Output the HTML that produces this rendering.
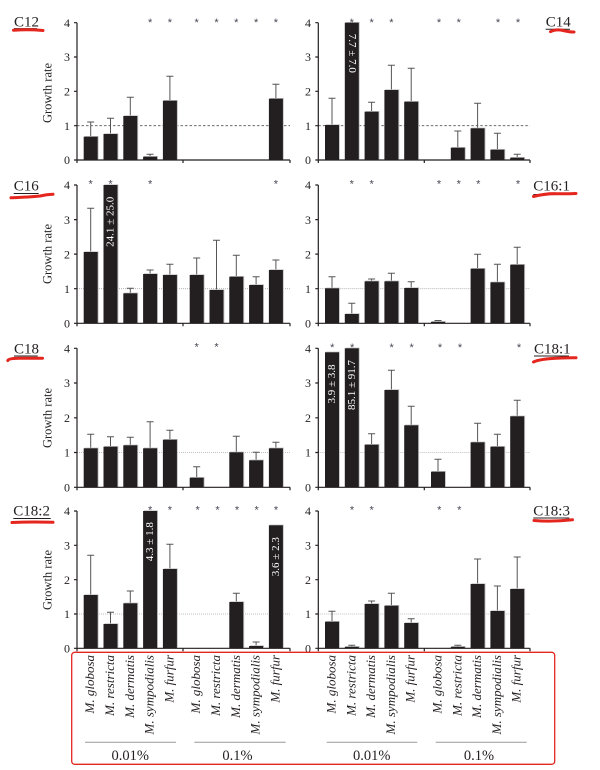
<!DOCTYPE html>
<html><head><meta charset="utf-8"><style>
html,body{margin:0;padding:0;background:#fff;}
svg{display:block;font-family:"Liberation Serif",serif;}
.ax{stroke:#231f20;stroke-width:1.2;fill:none;}
.eb{stroke:#555;stroke-width:1;fill:none;}
.tl{font-size:12px;fill:#231f20;text-anchor:end;}
.st{font-family:"Liberation Sans",sans-serif;font-size:11px;fill:#4a4552;text-anchor:middle;}
.bt{font-size:11px;fill:#fff;text-anchor:middle;dominant-baseline:central;}
.gr{font-size:12.5px;fill:#231f20;text-anchor:middle;}
.pl{font-size:15px;fill:#231f20;}
.sp{font-size:13px;font-style:italic;fill:#231f20;text-anchor:end;}
.gp{font-size:14.5px;fill:#231f20;text-anchor:middle;}
.red{stroke:#e5261f;stroke-width:3;fill:none;stroke-linecap:round;}
.ul{stroke:#231f20;stroke-width:1;}
</style></head><body>
<svg width="600" height="770" viewBox="0 0 600 770" xmlns="http://www.w3.org/2000/svg">
<defs>
<g id="bars">
<rect x="83.7" y="136.7" width="14" height="23.3"/>
<rect x="103.5" y="134" width="14" height="26"/>
<rect x="123.3" y="116" width="14" height="44"/>
<rect x="143.1" y="156.7" width="14" height="3.3"/>
<rect x="162.9" y="100.7" width="14" height="59.3"/>
<rect x="268.9" y="98.7" width="14" height="61.3"/>
<rect x="325" y="125" width="14" height="35"/>
<rect x="344.8" y="22.7" width="14" height="137.3"/>
<rect x="364.6" y="111.7" width="14" height="48.3"/>
<rect x="384.4" y="90" width="14" height="70"/>
<rect x="404.2" y="101.7" width="14" height="58.3"/>
<rect x="450.8" y="147.7" width="14" height="12.3"/>
<rect x="470.6" y="128.3" width="14" height="31.7"/>
<rect x="490.4" y="149.7" width="14" height="10.3"/>
<rect x="510.2" y="157.7" width="14" height="2.3"/>
<rect x="83.7" y="252" width="14" height="71.3"/>
<rect x="103.5" y="185" width="14" height="138.3"/>
<rect x="123.3" y="293.3" width="14" height="30"/>
<rect x="143.1" y="274" width="14" height="49.3"/>
<rect x="162.9" y="275" width="14" height="48.3"/>
<rect x="189.7" y="275" width="14" height="48.3"/>
<rect x="209.5" y="290" width="14" height="33.3"/>
<rect x="229.3" y="276.7" width="14" height="46.6"/>
<rect x="249.1" y="285" width="14" height="38.3"/>
<rect x="268.9" y="270" width="14" height="53.3"/>
<rect x="325" y="288.3" width="14" height="35"/>
<rect x="344.8" y="314" width="14" height="9.3"/>
<rect x="364.6" y="281.3" width="14" height="42"/>
<rect x="384.4" y="281.3" width="14" height="42"/>
<rect x="404.2" y="288" width="14" height="35.3"/>
<rect x="431" y="321.8" width="14" height="1.5"/>
<rect x="470.6" y="268.7" width="14" height="54.6"/>
<rect x="490.4" y="282.3" width="14" height="41"/>
<rect x="510.2" y="264.7" width="14" height="58.6"/>
<rect x="83.7" y="448.3" width="14" height="39"/>
<rect x="103.5" y="446.7" width="14" height="40.6"/>
<rect x="123.3" y="445.3" width="14" height="42"/>
<rect x="143.1" y="448.3" width="14" height="39"/>
<rect x="162.9" y="439.7" width="14" height="47.6"/>
<rect x="189.7" y="477.7" width="14" height="9.6"/>
<rect x="229.3" y="452.3" width="14" height="35"/>
<rect x="249.1" y="460.3" width="14" height="27"/>
<rect x="268.9" y="448.3" width="14" height="39"/>
<rect x="325" y="352.3" width="14" height="135"/>
<rect x="344.8" y="348.3" width="14" height="139"/>
<rect x="364.6" y="444.7" width="14" height="42.6"/>
<rect x="384.4" y="390" width="14" height="97.3"/>
<rect x="404.2" y="425.3" width="14" height="62"/>
<rect x="431" y="471.7" width="14" height="15.6"/>
<rect x="470.6" y="442.3" width="14" height="45"/>
<rect x="490.4" y="446.7" width="14" height="40.6"/>
<rect x="510.2" y="416.3" width="14" height="71"/>
<rect x="83.7" y="595" width="14" height="53.3"/>
<rect x="103.5" y="624" width="14" height="24.3"/>
<rect x="123.3" y="603.3" width="14" height="45"/>
<rect x="143.1" y="511" width="14" height="137.3"/>
<rect x="162.9" y="569" width="14" height="79.3"/>
<rect x="229.3" y="602" width="14" height="46.3"/>
<rect x="249.1" y="646" width="14" height="2.3"/>
<rect x="268.9" y="525.3" width="14" height="123"/>
<rect x="325" y="621.7" width="14" height="26.6"/>
<rect x="344.8" y="646.8" width="14" height="1.5"/>
<rect x="364.6" y="604" width="14" height="44.3"/>
<rect x="384.4" y="605.7" width="14" height="42.6"/>
<rect x="404.2" y="623" width="14" height="25.3"/>
<rect x="450.8" y="646.8" width="14" height="1.5"/>
<rect x="470.6" y="584" width="14" height="64.3"/>
<rect x="490.4" y="611" width="14" height="37.3"/>
<rect x="510.2" y="589" width="14" height="59.3"/>
</g>
</defs>

<g fill="none">
<path d="M77 125.7H290M318.3 125.7H530" stroke="#555" stroke-width="0.8" stroke-dasharray="2.5,2"/>
<path d="M77 288.7H290M318.3 288.7H530M77 452.5H290M318.3 452.5H530M77 614H290M318.3 614H530" stroke="#aaa" stroke-width="0.8" stroke-dasharray="1,1"/>
</g>

<path class="eb" d="
M90.7 136.7V122M87.2 122H94.2
M110.5 134V118.3M107 118.3H114
M130.3 116V97.3M126.8 97.3H133.8
M150.1 156.7V154.3M146.6 154.3H153.6
M169.9 100.7V76.3M166.4 76.3H173.4
M275.9 98.7V84.3M272.4 84.3H279.4
M332 125V98.3M328.5 98.3H335.5
M371.6 111.7V102.3M368.1 102.3H375.1
M391.4 90V65.3M387.9 65.3H394.9
M411.2 101.7V68.3M407.7 68.3H414.7
M457.8 147.7V131M454.3 131H461.3
M477.6 128.3V103.3M474.1 103.3H481.1
M497.4 149.7V133.3M493.9 133.3H500.9
M517.2 157.7V154.3M513.7 154.3H520.7
M90.7 252V208.3M87.2 208.3H94.2
M130.3 293.3V288.3M126.8 288.3H133.8
M150.1 274V270M146.6 270H153.6
M169.9 275V264.3M166.4 264.3H173.4
M196.7 275V258M193.2 258H200.2
M216.5 290V240.3M213 240.3H220
M236.3 276.7V255.3M232.8 255.3H239.8
M256.1 285V276.7M252.6 276.7H259.6
M275.9 270V260M272.4 260H279.4
M332 288.3V276.7M328.5 276.7H335.5
M351.8 314V303.3M348.3 303.3H355.3
M371.6 281.3V279M368.1 279H375.1
M391.4 281.3V273.3M387.9 273.3H394.9
M411.2 288V281.7M407.7 281.7H414.7
M438 322V320.5M434.5 320.5H441.5
M477.6 268.7V254.3M474.1 254.3H481.1
M497.4 282.3V264.3M493.9 264.3H500.9
M517.2 264.7V247.3M513.7 247.3H520.7
M90.7 448.3V434.3M87.2 434.3H94.2
M110.5 446.7V436.7M107 436.7H114
M130.3 445.3V437.3M126.8 437.3H133.8
M150.1 448.3V421.7M146.6 421.7H153.6
M169.9 439.7V430.3M166.4 430.3H173.4
M196.7 477.7V466.7M193.2 466.7H200.2
M236.3 452.3V436.3M232.8 436.3H239.8
M256.1 460.3V452.3M252.6 452.3H259.6
M275.9 448.3V442.3M272.4 442.3H279.4
M371.6 444.7V433.7M368.1 433.7H375.1
M391.4 390V370.3M387.9 370.3H394.9
M411.2 425.3V406.3M407.7 406.3H414.7
M438 471.7V459.3M434.5 459.3H441.5
M477.6 442.3V423.3M474.1 423.3H481.1
M497.4 446.7V434.3M493.9 434.3H500.9
M517.2 416.3V400.3M513.7 400.3H520.7
M90.7 595V555.3M87.2 555.3H94.2
M110.5 624V612.3M107 612.3H114
M130.3 603.3V591M126.8 591H133.8
M169.9 569V544.3M166.4 544.3H173.4
M236.3 602V593.3M232.8 593.3H239.8
M256.1 646V642M252.6 642H259.6
M332 621.7V611.3M328.5 611.3H335.5
M351.8 647V645.3M348.3 645.3H355.3
M371.6 604V601M368.1 601H375.1
M391.4 605.7V593.3M387.9 593.3H394.9
M411.2 623V618.7M407.7 618.7H414.7
M457.8 647V645.3M454.3 645.3H461.3
M477.6 584V559M474.1 559H481.1
M497.4 611V586M493.9 586H500.9
M517.2 589V557M513.7 557H520.7"/>

<use href="#bars" x="0.9" y="-0.7" fill="#c4c4c4"/>
<use href="#bars" fill="#231f20"/>

<path class="ax" d="
M77 22.7V160H290M74 22.7H77M74 57H77M74 91.3H77M74 125.7H77M74 160H77M77 160v3M183 160v3M290 160v3
M318.3 22.7V160H530M315.3 22.7H318.3M315.3 57H318.3M315.3 91.3H318.3M315.3 125.7H318.3M315.3 160H318.3M318.3 160v3M424.3 160v3M530 160v3
M77 185V323.3H290M74 185H77M74 219.6H77M74 254.1H77M74 288.7H77M74 323.3H77M77 323.3v3M183 323.3v3M290 323.3v3
M318.3 185V323.3H530M315.3 185H318.3M315.3 219.6H318.3M315.3 254.1H318.3M315.3 288.7H318.3M315.3 323.3H318.3M318.3 323.3v3M424.3 323.3v3M530 323.3v3
M77 348.3V487.3H290M74 348.3H77M74 383H77M74 417.8H77M74 452.5H77M74 487.3H77M77 487.3v3M183 487.3v3M290 487.3v3
M318.3 348.3V487.3H530M315.3 348.3H318.3M315.3 383H318.3M315.3 417.8H318.3M315.3 452.5H318.3M315.3 487.3H318.3M318.3 487.3v3M424.3 487.3v3M530 487.3v3
M77 511V648.3H290M74 511H77M74 545.3H77M74 579.7H77M74 614H77M74 648.3H77M77 648.3v3M183 648.3v3M290 648.3v3
M318.3 511V648.3H530M315.3 511H318.3M315.3 545.3H318.3M315.3 579.7H318.3M315.3 614H318.3M315.3 648.3H318.3M318.3 648.3v3M424.3 648.3v3M530 648.3v3"/>

<g class="tl">
<text x="70" y="26.9">4</text><text x="70" y="61.2">3</text><text x="70" y="95.5">2</text><text x="70" y="129.9">1</text><text x="70" y="164.2">0</text>
<text x="311" y="26.9">4</text><text x="311" y="61.2">3</text><text x="311" y="95.5">2</text><text x="311" y="129.9">1</text><text x="311" y="164.2">0</text>
<text x="70" y="189.2">4</text><text x="70" y="223.8">3</text><text x="70" y="258.3">2</text><text x="70" y="292.9">1</text><text x="70" y="327.5">0</text>
<text x="311" y="189.2">4</text><text x="311" y="223.8">3</text><text x="311" y="258.3">2</text><text x="311" y="292.9">1</text><text x="311" y="327.5">0</text>
<text x="70" y="352.5">4</text><text x="70" y="387.2">3</text><text x="70" y="422">2</text><text x="70" y="456.7">1</text><text x="70" y="491.5">0</text>
<text x="311" y="352.5">4</text><text x="311" y="387.2">3</text><text x="311" y="422">2</text><text x="311" y="456.7">1</text><text x="311" y="491.5">0</text>
<text x="70" y="515.2">4</text><text x="70" y="549.5">3</text><text x="70" y="583.9">2</text><text x="70" y="618.2">1</text><text x="70" y="652.5">0</text>
<text x="311" y="515.2">4</text><text x="311" y="549.5">3</text><text x="311" y="583.9">2</text><text x="311" y="618.2">1</text><text x="311" y="652.5">0</text>
</g>

<g class="gr">
<text transform="translate(51.5,93) rotate(-90)">Growth rate</text>
<text transform="translate(51.5,254) rotate(-90)">Growth rate</text>
<text transform="translate(51.5,418) rotate(-90)">Growth rate</text>
<text transform="translate(51.5,580) rotate(-90)">Growth rate</text>
</g>

<g class="st">
<text x="150.1" y="26">*</text><text x="169.9" y="26">*</text><text x="196.7" y="26">*</text><text x="216.5" y="26">*</text><text x="236.3" y="26">*</text><text x="256.1" y="26">*</text><text x="275.9" y="26">*</text>
<text x="351.8" y="26">*</text><text x="371.6" y="26">*</text><text x="391.4" y="26">*</text><text x="439" y="26">*</text><text x="458.8" y="26">*</text><text x="498" y="26">*</text><text x="518" y="26">*</text>
<text x="90.7" y="187.7">*</text><text x="110.5" y="187.7">*</text><text x="150.1" y="187.7">*</text><text x="275.9" y="187.7">*</text>
<text x="351.8" y="187.7">*</text><text x="371.6" y="187.7">*</text><text x="439" y="187.7">*</text><text x="458.8" y="187.7">*</text><text x="478.3" y="187.7">*</text><text x="518" y="187.7">*</text>
<text x="196.7" y="350.5">*</text><text x="216.5" y="350.5">*</text>
<text x="332.3" y="351">*</text><text x="352.2" y="351">*</text><text x="391.7" y="351">*</text><text x="411.7" y="351">*</text><text x="440" y="351">*</text><text x="460" y="351">*</text><text x="519" y="351">*</text>
<text x="150.1" y="513.7">*</text><text x="169.9" y="513.7">*</text><text x="197.7" y="513.7">*</text><text x="217.5" y="513.7">*</text><text x="237" y="513.7">*</text><text x="256.6" y="513.7">*</text><text x="276" y="513.7">*</text>
<text x="352" y="513.7">*</text><text x="371.7" y="513.7">*</text><text x="439.3" y="513.7">*</text><text x="459.3" y="513.7">*</text>
</g>

<g class="bt">
<text transform="translate(351.8,53.3) rotate(90)">7.7 ± 7.0</text>
<text transform="translate(110.5,221.8) rotate(-90)">24.1 ± 25.0</text>
<text transform="translate(332,384) rotate(-90)">3.9 ± 3.8</text>
<text transform="translate(351.8,385) rotate(-90)">85.1 ± 91.7</text>
<text transform="translate(150.1,541.7) rotate(-90)">4.3 ± 1.8</text>
<text transform="translate(275.9,556.7) rotate(-90)">3.6 ± 2.3</text>
</g>

<g class="pl">
<text x="14" y="26.7">C12</text>
<text x="545.7" y="26.5">C14</text>
<text x="13.7" y="190.5">C16</text>
<text x="533.3" y="190.7">C16:1</text>
<text x="14" y="353.3">C18</text>
<text x="534" y="353.3">C18:1</text>
<text x="13.3" y="515.7">C18:2</text>
<text x="533.3" y="515.7">C18:3</text>
</g>
<path class="ul" d="M14 28.6H37M545.7 29.3H570M13.7 193.5H38.7M533.3 194.5H569M14 356H37.7M534 356H569M13.3 518.5H50.7M533.3 518H569.3"/>
<g class="red">
<path d="M13.5 30.3Q28 29.2 43 30.5"/>
<path d="M550.5 31.7Q556 28.8 563 30.5T574 32"/>
<path d="M11 197.8Q30 197 40 196Q47 194.5 53 194.3"/>
<path d="M533.5 196.5Q545 193.5 556 193.7T576 193.5"/>
<path d="M7.8 360.5Q9 358.3 20 358.3L42.5 358.3"/>
<path d="M533.5 362Q540 359 556 358.3T576 357.8"/>
<path d="M12 522.5Q32 521.5 53 522.3"/>
<path d="M534 520.5Q552 522 572.5 519.8"/>
</g>

<g class="sp">
<text transform="translate(94.2,655) rotate(-90)">M. globosa</text>
<text transform="translate(114,655) rotate(-90)">M. restricta</text>
<text transform="translate(133.8,655) rotate(-90)">M. dermatis</text>
<text transform="translate(153.6,655) rotate(-90)">M. sympodialis</text>
<text transform="translate(173.4,655) rotate(-90)">M. furfur</text>
<text transform="translate(200.2,655) rotate(-90)">M. globosa</text>
<text transform="translate(220,655) rotate(-90)">M. restricta</text>
<text transform="translate(239.8,655) rotate(-90)">M. dermatis</text>
<text transform="translate(259.6,655) rotate(-90)">M. sympodialis</text>
<text transform="translate(279.4,655) rotate(-90)">M. furfur</text>
<text transform="translate(335.5,655) rotate(-90)">M. globosa</text>
<text transform="translate(355.3,655) rotate(-90)">M. restricta</text>
<text transform="translate(375.1,655) rotate(-90)">M. dermatis</text>
<text transform="translate(394.9,655) rotate(-90)">M. sympodialis</text>
<text transform="translate(414.7,655) rotate(-90)">M. furfur</text>
<text transform="translate(441.5,655) rotate(-90)">M. globosa</text>
<text transform="translate(461.3,655) rotate(-90)">M. restricta</text>
<text transform="translate(481.1,655) rotate(-90)">M. dermatis</text>
<text transform="translate(500.9,655) rotate(-90)">M. sympodialis</text>
<text transform="translate(520.7,655) rotate(-90)">M. furfur</text>
</g>

<path d="M85 742.3H176M194.3 742.3H285.7M326.7 742.3H417.3M435.7 742.3H526.7" stroke="#999" stroke-width="1" fill="none"/>
<g class="gp">
<text x="130.2" y="760">0.01%</text>
<text x="237.5" y="760">0.1%</text>
<text x="371.7" y="760">0.01%</text>
<text x="479" y="760">0.1%</text>
</g>

<rect x="71.7" y="652.3" width="483" height="112" rx="3" ry="3" fill="none" stroke="#e5261f" stroke-width="1.3"/>
</svg>
</body></html>
